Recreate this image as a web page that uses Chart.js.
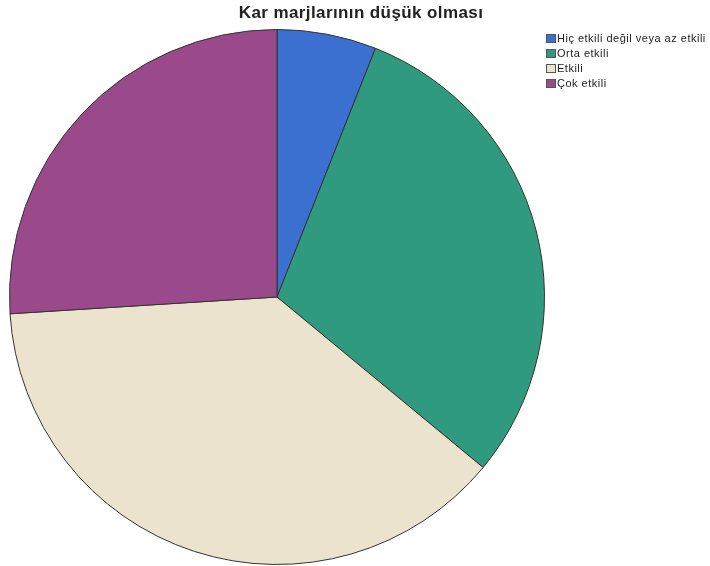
<!DOCTYPE html>
<html lang="tr">
<head>
<meta charset="UTF-8">
<title>Kar marjlarının düşük olması</title>
<script src="https://cdn.jsdelivr.net/npm/chart.js"></script>
<style>
    body { margin: 0; background: #fff; font-family: "Liberation Sans", Arial, sans-serif; }
    #wrap { position: relative; width: 710px; height: 566px; }
    #title {
        position: absolute; left: 0; width: 722px; top: 3px;
        text-align: center; font-size: 17px; font-weight: bold; color: #222;
        letter-spacing: 0.4px;
    }
    #legend { position: absolute; left: 546px; top: 32px; font-size: 11px; color: #222; letter-spacing: 0.5px; }
    #legend div { height: 15px; line-height: 12px; white-space: nowrap; }
    #legend span.box {
        display: inline-block; width: 10px; height: 9px; margin-right: 1px;
        vertical-align: -1px; border: 1px solid #555; box-sizing: border-box;
    }
</style>
</head>
<body>
<div id="wrap">
    <canvas id="pie" width="710" height="566"></canvas>
    <div id="title">Kar marjlarının düşük olması</div>
    <div id="legend"></div>
</div>
<script>
    // categories and shares (%)
    const labels = ["Hiç etkili değil veya az etkili", "Orta etkili", "Etkili", "Çok etkili"];
    const values = [6, 30, 38, 26];
    const colors = ["#3b6fd0", "#2f9a7e", "#ece3cf", "#9a4a8a"];

    const legend = document.getElementById('legend');
    labels.forEach((l, i) => {
        const row = document.createElement('div');
        row.innerHTML = '<span class="box" style="background:' + colors[i] + '"></span>' + l;
        legend.appendChild(row);
    });

    new Chart(document.getElementById('pie'), {
        type: 'pie',
        data: {
            labels: labels,
            datasets: [{
                data: values,
                backgroundColor: colors,
                borderColor: '#333',
                borderWidth: 1
            }]
        },
        options: {
            responsive: false,
            animation: false,
            layout: { padding: { left: 9, right: 165, top: 29, bottom: 1 } },
            plugins: {
                legend: { display: false },
                tooltip: { enabled: false }
            }
        }
    });
</script>
</body>
</html>
